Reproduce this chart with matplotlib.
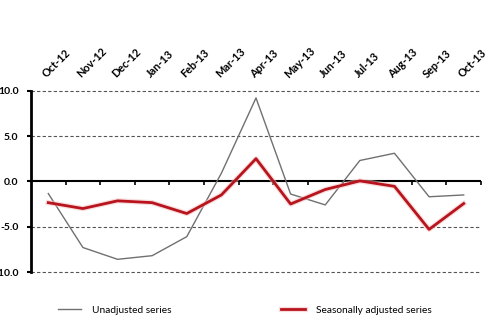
import matplotlib
matplotlib.use("Agg")
import matplotlib.pyplot as plt
import matplotlib.patheffects as pe
import numpy as np

months = ["Oct-12", "Nov-12", "Dec-12", "Jan-13", "Feb-13", "Mar-13", "Apr-13",
          "May-13", "Jun-13", "Jul-13", "Aug-13", "Sep-13", "Oct-13"]
unadjusted = [-1.35, -7.3, -8.6, -8.2, -6.1, 0.9, 9.2, -1.4, -2.6, 2.3, 3.1, -1.7, -1.5]
seasonal = [-2.35, -3.0, -2.15, -2.35, -3.55, -1.5, 2.5, -2.5, -0.9, 0.05, -0.55, -5.3, -2.45]
yticks = [-10, -5, 0, 5, 10]
ytick_labels = ["-10.0", "-5.0", "0.0", "5.0", "10.0"]

plt.rcParams['font.family'] = ['Lato', 'DejaVu Sans']

fig = plt.figure(figsize=(4.95, 3.33), dpi=100)
ax = fig.add_axes([31/495, 1-272/333, 450/495, (272-90.7)/333])

x = np.arange(len(months))
ax.set_xlim(-0.5, len(months) - 0.5)
ax.set_ylim(-10, 10)

# gridlines
for yv in yticks:
    if yv != 0:
        ax.axhline(yv, color='#555555', lw=0.8, ls=(0, (3, 2)), zorder=1, clip_on=False)

# zero axis line with tick marks at category boundaries
ax.axhline(0, color='black', lw=1.5, zorder=2)
for b in np.arange(0.5, len(months), 1.0):
    ax.plot([b, b], [0, -0.45], color='black', lw=1.2, zorder=2, clip_on=False,
            solid_capstyle='butt')

l1, = ax.plot(x, unadjusted, color='#707070', lw=1.0, zorder=3, label='Unadjusted series')
l2, = ax.plot(x, seasonal, color='#B8141E', lw=2.0, zorder=4, label='Seasonally adjusted series',
              path_effects=[pe.Stroke(linewidth=3.8, foreground='#F3C0C0', alpha=0.55), pe.Normal()])

for s in ['top', 'right', 'bottom']:
    ax.spines[s].set_visible(False)
ax.spines['left'].set_linewidth(2.0)
ax.spines['left'].set_color('black')

ax.set_yticks(yticks)
ax.set_yticklabels(ytick_labels, fontsize=7.5, fontweight='bold')
ax.tick_params(axis='y', length=3, width=1.5, pad=6)

ax.set_xticks(x)
ax.set_xticklabels(months, fontsize=7.8, fontweight='bold', rotation=45,
                   ha='left', va='bottom', rotation_mode='anchor')
ax.tick_params(axis='x', top=True, bottom=False, labeltop=True, labelbottom=False,
               length=0, pad=8)

fig.legend(handles=[l1, l2], loc='center left', bbox_to_anchor=(58/495, 1-310/333),
           ncol=2, frameon=False, fontsize=7.3, handlelength=2.3, handletextpad=1.1,
           columnspacing=10.8, borderaxespad=0, borderpad=0)

fig.savefig("out.png", dpi=100)
